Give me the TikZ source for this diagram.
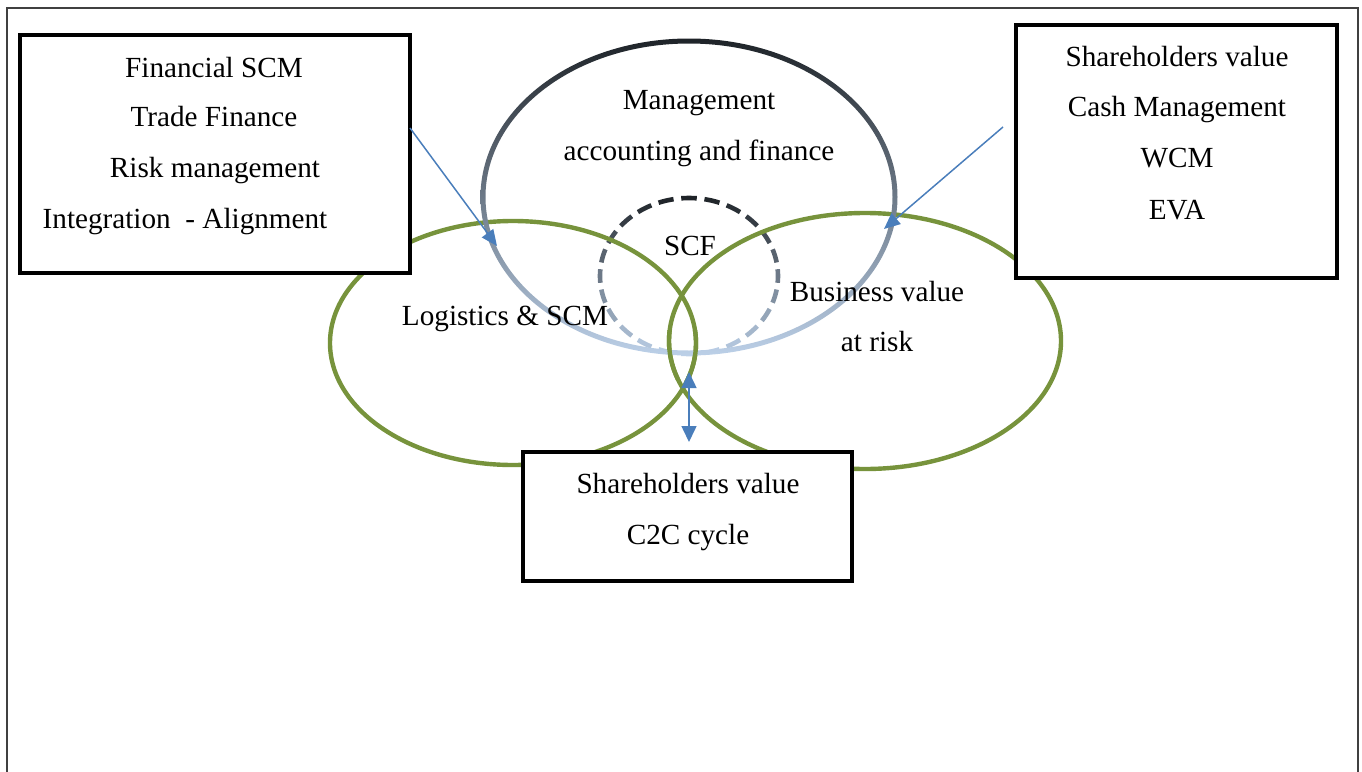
\documentclass[tikz,border=0pt]{standalone}
\usepackage{fontspec}
\setmainfont{Liberation Serif}
\usetikzlibrary{arrows.meta}
\definecolor{grn}{HTML}{77933C}
\definecolor{arr}{HTML}{4A7EBB}
\definecolor{dk}{HTML}{1E2328}
\definecolor{lb}{HTML}{BCD0E8}
\tikzset{
  frameline/.style={draw=black!75, line width=1pt},
  box/.style={draw=black, line width=2pt, minimum width=#1, inner sep=0pt},
  txt/.style={font=\fontsize{14.6}{17}\selectfont, anchor=base, inner sep=0pt},
  greenell/.style={draw=grn, line width=2.2pt},
  blarrow/.style={draw=arr, line width=0.75pt, -{Triangle[length=8pt,width=7pt]}},
  dblarrow/.style={draw=arr, line width=0.75pt, {Triangle[length=8pt,width=7.5pt]}-{Triangle[length=8pt,width=7.5pt]}}
}
\begin{document}
\begin{tikzpicture}[x=0.5pt,y=-0.5pt]
\useasboundingbox (0,0) rectangle (1362,772);
% outer frame
\draw[frameline] (7,772) -- (7,8) -- (1358,8) -- (1358,772);

% SCF dashed circle with gradient
\foreach \i in {0,...,23} {
  \pgfmathsetmacro\a{265+\i*15}
  \pgfmathsetmacro\t{(1-sin(\a+5))*50}
  \draw[color=dk!\t!lb, line width=2.3pt] (689,276) ++(\a:89 and 78)
     arc[start angle=\a, end angle=\a+10, x radius=89, y radius=78];
}

% green ellipses
\draw[greenell] (513,343) ellipse [x radius=183, y radius=122];
\draw[greenell] (865,341) ellipse [x radius=196, y radius=128];

% top ellipse, gradient ring
\path[even odd rule, top color=dk, bottom color=lb]
  (689,197) ellipse [x radius=208.5, y radius=158.5]
  (689,197) ellipse [x radius=203.5, y radius=153.5];

% green over the bottom of the top ellipse
\begin{scope}
  \clip (600,330) rectangle (780,380);
  \draw[greenell] (513,343) ellipse [x radius=183, y radius=122];
  \draw[greenell] (865,341) ellipse [x radius=196, y radius=128];
\end{scope}

% boxes
\node[box=195pt, minimum height=119pt, fill=white] (lbox) at (215,154) {};
\node[box=160.5pt, minimum height=126.5pt, fill=white] (rbox) at (1176.5,151.5) {};
\node[box=164.5pt, minimum height=64.5pt, fill=white] (bbox) at (687.5,516.5) {};

% texts
\node[txt] (t1) at (214,77) {Financial SCM};
\node[txt] (t2) at (214,126) {Trade Finance};
\node[txt] (t3) at (215,177) {Risk management};
\node[txt] (t4) at (185,228) {Integration\ \ - Alignment};

\node[txt] (r1) at (1177,66) {Shareholders value};
\node[txt] (r2) at (1177,116) {Cash Management};
\node[txt] (r3) at (1177,167) {WCM};
\node[txt] (r4) at (1177,219) {EVA};

\node[txt] (m1) at (699,109) {Management};
\node[txt] (m2) at (699,160) {accounting and finance};
\node[txt] (scf) at (690,255) {SCF};
\node[txt] (lg) at (505,325) {Logistics \& SCM};
\node[txt] (bv1) at (877,301) {Business value};
\node[txt] (bv2) at (877,351) {at risk};

\node[txt] (b1) at (688,493) {Shareholders value};
\node[txt] (b2) at (688,544) {C2C cycle};

% arrows
\coordinate (la0) at (410,128);
\coordinate (la1) at (497,246);
\coordinate (ra0) at (1003,127);
\coordinate (ra1) at (884,229);
\coordinate (va0) at (689,372);
\coordinate (va1) at (689,442);
\draw[blarrow] (la0) -- (la1);
\draw[blarrow] (ra0) -- (ra1);
\draw[dblarrow] (va0) -- (va1);
\end{tikzpicture}
\end{document}
